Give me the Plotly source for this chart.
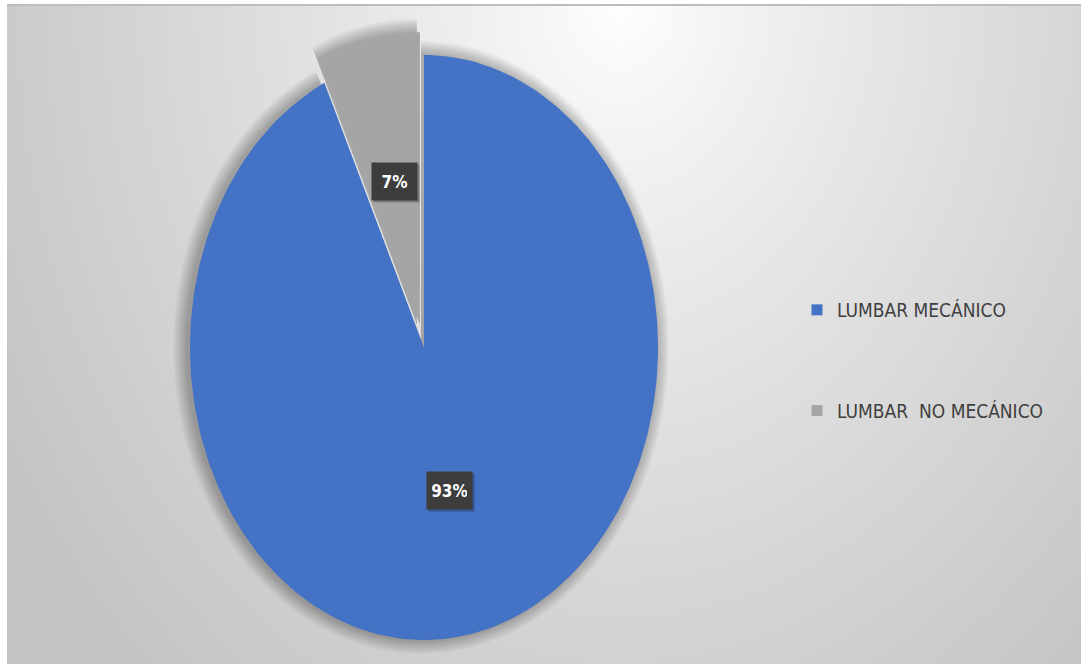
import numpy as np
import plotly.graph_objects as go

# Data
categories = ["LUMBAR MECÁNICO", "LUMBAR  NO MECÁNICO"]
shares = [93, 7]
slice_colors = ["#4472C4", "#A5A5A5"]
pull = [0.0, 0.08]

# Figure geometry (pixels)
W, H = 1081, 664
ML, MT = 7, 5
PW, PH = W - ML, H - MT
CX_PX, CY_PX = 424, 347.5      # pie centre
RX_PX, RY_PX = 234, 292.5      # pie semi-axes (the pie is stretched vertically)

# Axis ranges: one data unit = one pie radius on each axis
x0 = -(CX_PX - ML) / RX_PX
x1 = x0 + PW / RX_PX
y1 = (CY_PX - MT) / RY_PX
y0 = y1 - PH / RY_PX

FONT = "DejaVu Sans Condensed, DejaVu Sans, sans-serif"

fig = go.Figure()

# Radial grey background gradient (bright near the top centre)
gx = np.linspace(x0, x1, 120)
gy = np.linspace(y0, y1, 80)
GX, GY = np.meshgrid(gx, gy)
px_x = ML + (GX - x0) * RX_PX
px_y = MT + (y1 - GY) * RY_PX
dist = np.sqrt(((px_x - 620) / 720) ** 2 + ((px_y - 0) / 920) ** 2)
shade = 1 - np.clip(dist, 0, 1) ** 0.85
fig.add_trace(go.Heatmap(
    x=gx, y=gy, z=shade, zmin=0, zmax=1, zsmooth="best",
    colorscale=[[0, "#c3c3c3"], [1, "#ffffff"]],
    showscale=False, hoverinfo="skip",
))

# Slice geometry from the shares (clockwise from 12 o'clock)
total = sum(shares)
bounds = np.concatenate([[0], np.cumsum(shares)]) / total * 2 * np.pi
slices = []
for i in range(len(shares)):
    t0, t1 = bounds[i], bounds[i + 1]
    mid = (t0 + t1) / 2
    ox, oy = pull[i] * np.sin(mid), pull[i] * np.cos(mid)
    slices.append((t0, t1, mid, ox, oy))


def wedge(t0, t1, ox, oy, sx=1.0, sy=1.0):
    t = np.linspace(t0, t1, 240)
    xs = np.concatenate([[ox], ox + sx * np.sin(t), [ox]])
    ys = np.concatenate([[oy], oy + sy * np.cos(t), [oy]])
    return xs, ys


# Soft outer shadow under the slices, a little heavier towards the left
for k in range(1, 15):
    for (t0, t1, mid, ox, oy) in slices:
        xs, ys = wedge(t0, t1, ox - 3 / RX_PX, oy, 1 + k / RX_PX, 1 + k / RY_PX)
        fig.add_trace(go.Scatter(
            x=xs, y=ys, mode="lines", fill="toself",
            fillcolor="rgba(0,0,0,0.02)", line=dict(width=0),
            hoverinfo="skip", showlegend=False,
        ))

# Slices
for i, (t0, t1, mid, ox, oy) in enumerate(slices):
    xs, ys = wedge(t0, t1, ox, oy)
    fig.add_trace(go.Scatter(
        x=xs, y=ys, mode="lines", fill="toself",
        fillcolor=slice_colors[i], line=dict(width=0),
        hoverinfo="skip", showlegend=False,
    ))

# Percentage labels at half radius along each slice bisector
for i, (t0, t1, mid, ox, oy) in enumerate(slices):
    pct = round(shares[i] / total * 100)
    lx, ly = ox + 0.5 * np.sin(mid), oy + 0.5 * np.cos(mid)
    # faint drop shadow behind the label box
    fig.add_annotation(
        x=lx, y=ly, xref="x", yref="y", xshift=2, yshift=-2,
        text=f"<b>{pct}%</b>", showarrow=False,
        font=dict(family=FONT, size=17, color="rgba(0,0,0,0)"),
        bgcolor="rgba(0,0,0,0.25)", borderpad=5, width=35, height=27,
    )
    fig.add_annotation(
        x=lx, y=ly, xref="x", yref="y",
        text=f"<b>{pct}%</b>", showarrow=False,
        font=dict(family=FONT, size=17, color="#ffffff"),
        bgcolor="#3d3d3d", borderpad=5, width=35, height=27,
    )

# Legend entries
for i, name in enumerate(categories):
    fig.add_trace(go.Scatter(
        x=[None], y=[None], mode="markers", name=name,
        marker=dict(symbol="square", size=11, color=slice_colors[i]),
        legendgroup=f"g{i}", showlegend=True,
    ))

# Legend panel
fig.add_shape(
    type="rect", xref="paper", yref="paper",
    x0=(780 - ML) / PW, x1=(1073 - ML) / PW,
    y0=1 - (460 - MT) / PH, y1=1 - (260 - MT) / PH,
    fillcolor="rgba(255,255,255,0.32)", line=dict(width=0), layer="below",
)
# Top edge line of the chart area
fig.add_shape(
    type="line", xref="paper", yref="paper", x0=0, x1=1, y0=1, y1=1,
    line=dict(color="#bdbdbd", width=2),
)

fig.update_layout(
    width=W, height=H,
    margin=dict(l=ML, r=0, t=MT, b=0),
    paper_bgcolor="#ffffff", plot_bgcolor="#d8d8d8",
    xaxis=dict(range=[x0, x1], visible=False, fixedrange=True),
    yaxis=dict(range=[y0, y1], visible=False, fixedrange=True),
    showlegend=True,
    legend=dict(
        x=(797 - ML) / PW, y=1 - (291 - MT) / PH,
        xanchor="left", yanchor="top",
        bgcolor="rgba(0,0,0,0)", borderwidth=0,
        font=dict(family=FONT, size=19, color="#404040"),
        tracegroupgap=73, itemclick=False, itemdoubleclick=False,
    ),
    hovermode=False,
)

fig.write_html("out.html")
